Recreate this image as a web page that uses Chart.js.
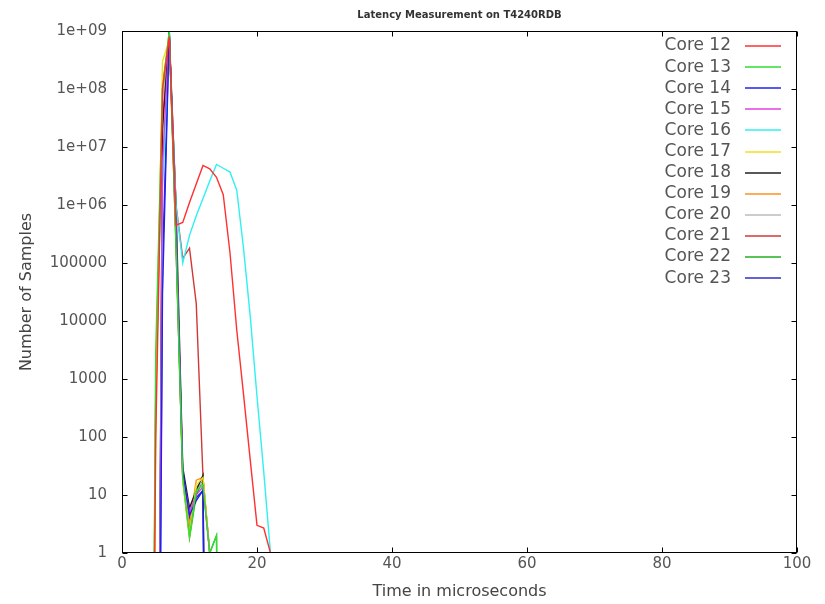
<!DOCTYPE html>
<html>
<head>
<meta charset="utf-8">
<title>Latency Measurement on T4240RDB</title>
<script src="https://cdn.jsdelivr.net/npm/chart.js@4.4.1/dist/chart.umd.min.js"></script>
<style>
  html, body { margin: 0; padding: 0; background: #fff; }
  canvas { display: block; }
</style>
</head>
<body>
<canvas id="js-chart" width="825" height="604"></canvas>
<script>
// histogram bins (microseconds) and sample counts per core
const micros = [4, 5, 6, 7, 8, 9, 10, 11, 12, 13, 14, 15, 16, 17, 18, 19, 20, 21, 22, 23];

const core12 = [0, 100, 1e8, 8e8, 4.5e5, 5e5, 1.1e6, 2.3e6, 4.8e6, 4.2e6, 3e6, 1.5e6, 1.5e5, 7000, 550, 40, 3, 2.7, 1, 0];
const core13 = [0, 3000, 1e8, 1e9, 2e5, 20, 2, 12, 15, 1, 2, 0, 0, 0, 0, 0, 0, 0, 0, 0];
const core14 = [0, 0, 3e4, 1e9, 3e5, 25, 4.5, 8, 12, 0, 0, 0, 0, 0, 0, 0, 0, 0, 0, 0];
const core15 = [0, 0, 5e6, 9e8, 5e5, 22, 5, 10, 14, 1, 0, 0, 0, 0, 0, 0, 0, 0, 0, 0];
const core16 = [0, 0, 2e6, 6e8, 1e6, 1e5, 3e5, 6.5e5, 1.3e6, 2.6e6, 5e6, 4.3e6, 3.7e6, 1.8e6, 1.8e5, 1.2e4, 500, 25, 1, 0];
const core17 = [0, 200, 3e8, 7e8, 2e5, 18, 2, 15, 20, 1, 0, 0, 0, 0, 0, 0, 0, 0, 0, 0];
const core18 = [0, 0, 2e7, 9e8, 1e6, 30, 6, 12, 22, 0, 0, 0, 0, 0, 0, 0, 0, 0, 0, 0];
const core19 = [0, 1000, 1.2e8, 8e8, 3e5, 20, 3, 18, 20, 1, 0, 0, 0, 0, 0, 0, 0, 0, 0, 0];
const core20 = [0, 0, 5e7, 8e8, 4e5, 20, 5, 14, 16, 1, 0, 0, 0, 0, 0, 0, 0, 0, 0, 0];
const core21 = [0, 0, 3e7, 7e8, 1e6, 1.2e5, 1.8e5, 2e4, 20, 1, 0, 0, 0, 0, 0, 0, 0, 0, 0, 0];
const core22 = [0, 500, 5e7, 1e9, 3e5, 18, 1.8, 10, 18, 1, 2, 0, 0, 0, 0, 0, 0, 0, 0, 0];
const core23 = [0, 0, 1e5, 1e9, 2e5, 20, 4, 9, 12, 0, 0, 0, 0, 0, 0, 0, 0, 0, 0, 0];

const coreNames = ["Core 12", "Core 13", "Core 14", "Core 15", "Core 16", "Core 17",
                   "Core 18", "Core 19", "Core 20", "Core 21", "Core 22", "Core 23"];
const coreValues = [core12, core13, core14, core15, core16, core17,
                    core18, core19, core20, core21, core22, core23];
const coreColors = ["#ff3030", "#30dd30", "#2020ee", "#e040e0", "#30f0f0", "#f0e020",
                    "#202020", "#ff9020", "#bbbbbb", "#d03838", "#20b020", "#3030c0"];

const xTicks = [0, 20, 40, 60, 80, 100];
const yTicks = [1, 10, 100, 1000, 10000, 100000, 1e6, 1e7, 1e8, 1e9];
const yTickLabels = ["1", "10", "100", "1000", "10000", "100000", "1e+06", "1e+07", "1e+08", "1e+09"];

const FONT = "'DejaVu Sans', sans-serif";
// a zero count has no log, gnuplot sends the line straight off the bottom; do the same
const ZERO_AS = 1e-12;

const frame = {
  id: "frame",
  afterDraw(chart) {
    const { ctx, chartArea: a, scales } = chart;
    const l = Math.round(a.left) + 0.5, r = Math.round(a.right) - 0.5;
    const t = Math.round(a.top) + 0.5, b = Math.round(a.bottom) - 0.5;
    ctx.save();
    ctx.strokeStyle = "#000";
    ctx.lineWidth = 1;
    ctx.strokeRect(l, t, r - l, b - t);
    ctx.beginPath();
    xTicks.forEach(v => {
      const px = Math.round(scales.x.getPixelForValue(v)) + 0.5;
      ctx.moveTo(px, b); ctx.lineTo(px, b - 5);
      ctx.moveTo(px, t); ctx.lineTo(px, t + 5);
    });
    yTicks.forEach(v => {
      const py = Math.round(scales.y.getPixelForValue(v)) + 0.5;
      ctx.moveTo(l, py); ctx.lineTo(l + 5, py);
      ctx.moveTo(r, py); ctx.lineTo(r - 5, py);
    });
    ctx.stroke();

    // titles
    ctx.fillStyle = "#333";
    ctx.textAlign = "center";
    ctx.textBaseline = "middle";
    ctx.font = "bold 10px " + FONT;
    ctx.fillText("Latency Measurement on T4240RDB", (a.left + a.right) / 2, 15);
    ctx.font = "16px " + FONT;
    ctx.fillStyle = "#444";
    ctx.fillText("Time in microseconds", (a.left + a.right) / 2, 592);
    ctx.save();
    ctx.translate(27, 292);
    ctx.rotate(-Math.PI / 2);
    ctx.fillText("Number of Samples", 0, 0);
    ctx.restore();

    // gnuplot style key: text then line sample
    ctx.font = "17px " + FONT;
    ctx.textAlign = "right";
    ctx.lineWidth = 1.5;
    chart.data.datasets.forEach((ds, i) => {
      const y = a.top + 15 + i * 21.1;
      ctx.fillStyle = "#555";
      ctx.fillText(ds.label, a.right - 66, y);
      ctx.strokeStyle = ds.borderColor;
      ctx.beginPath();
      ctx.moveTo(a.right - 52, Math.round(y));
      ctx.lineTo(a.right - 16, Math.round(y));
      ctx.stroke();
    });
    ctx.restore();
  }
};

new Chart(document.getElementById("js-chart"), {
  type: "line",
  data: {
    datasets: coreNames.map((name, i) => ({
      label: name,
      data: micros.map((x, j) => ({ x: x, y: coreValues[i][j] === 0 ? ZERO_AS : coreValues[i][j] })),
      borderColor: coreColors[i],
      borderWidth: 1.4,
      pointRadius: 0,
      tension: 0,
      fill: false
    }))
  },
  options: {
    responsive: false,
    animation: false,
    devicePixelRatio: 1,
    layout: { padding: { left: 0, top: 31, right: 28, bottom: 0 } },
    plugins: {
      legend: { display: false },
      title: { display: false },
      tooltip: { enabled: false }
    },
    scales: {
      x: {
        type: "linear",
        min: 0,
        max: 100,
        grid: { display: false, drawTicks: false },
        border: { display: false },
        afterBuildTicks: (scale) => { scale.ticks = xTicks.map(v => ({ value: v })); },
        afterFit: (scale) => { scale.height = 51; },
        ticks: {
          padding: 2,
          color: "#555",
          font: { family: FONT, size: 15 },
          maxRotation: 0
        }
      },
      y: {
        type: "logarithmic",
        min: 1,
        max: 1e9,
        grid: { display: false, drawTicks: false },
        border: { display: false },
        afterBuildTicks: (scale) => { scale.ticks = yTicks.map(v => ({ value: v })); },
        afterFit: (scale) => { scale.width = 122; },
        ticks: {
          padding: 15,
          color: "#555",
          font: { family: FONT, size: 15 },
          callback: (value) => yTickLabels[yTicks.indexOf(value)]
        }
      }
    }
  },
  plugins: [frame]
});
</script>
</body>
</html>
